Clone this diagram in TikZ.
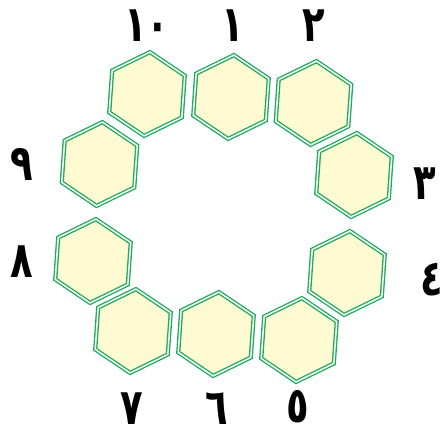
\documentclass[tikz,border=0pt]{standalone}
\usepackage{graphicx}
\usepackage{fontspec}
\newfontfamily\arabicfont[Script=Arabic]{DejaVu Sans}
\definecolor{hexgreen}{RGB}{30,172,92}
\definecolor{hexfill}{RGB}{254,250,210}
\newcommand{\arnum}[1]{\scalebox{0.74}[1]{#1}}
\begin{document}
\begin{tikzpicture}[x=1pt,y=1pt,
  hexshape/.style={draw=hexgreen, line width=1.35pt, double=white, double distance=1.5pt, fill=hexfill, line join=miter},
  numlabel/.style={font=\arabicfont\bfseries\fontsize{50}{50}\selectfont, inner sep=0pt, text depth=0pt, anchor=base, text=black}]
\useasboundingbox (0,0) rectangle (444,437);
\foreach \n/\x/\y in {8/93/176, 7/133/106, 6/216/103, 5/299/97, 4/347/164, 3/354/262, 2/313.5/334, 1/231/340, 10/147/343, 9/99.5/273}{
  \coordinate (h\n) at (\x,\y);
  \draw[hexshape, shift={(h\n)}, rotate=-4] (90:42) -- (150:42) -- (210:42) -- (270:42) -- (330:42) -- (30:42) -- cycle;
}
\node[numlabel] (l10) at (147,395) {\arnum{١٠}};
\node[numlabel] (l1) at (233,395) {\arnum{١}};
\node[numlabel] (l2) at (314,395) {\arnum{٢}};
\node[numlabel] (l3) at (425,237) {\arnum{٣}};
\node[numlabel] (l4) at (432,142) {\arnum{٤}};
\node[numlabel] (l5) at (298,15) {\arnum{٥}};
\node[numlabel] (l6) at (217,13) {\arnum{٦}};
\node[numlabel] (l7) at (132,13) {\arnum{٧}};
\node[numlabel] (l8) at (22,160) {\arnum{٨}};
\node[numlabel] (l9) at (22,256) {\arnum{٩}};
\end{tikzpicture}
\end{document}
